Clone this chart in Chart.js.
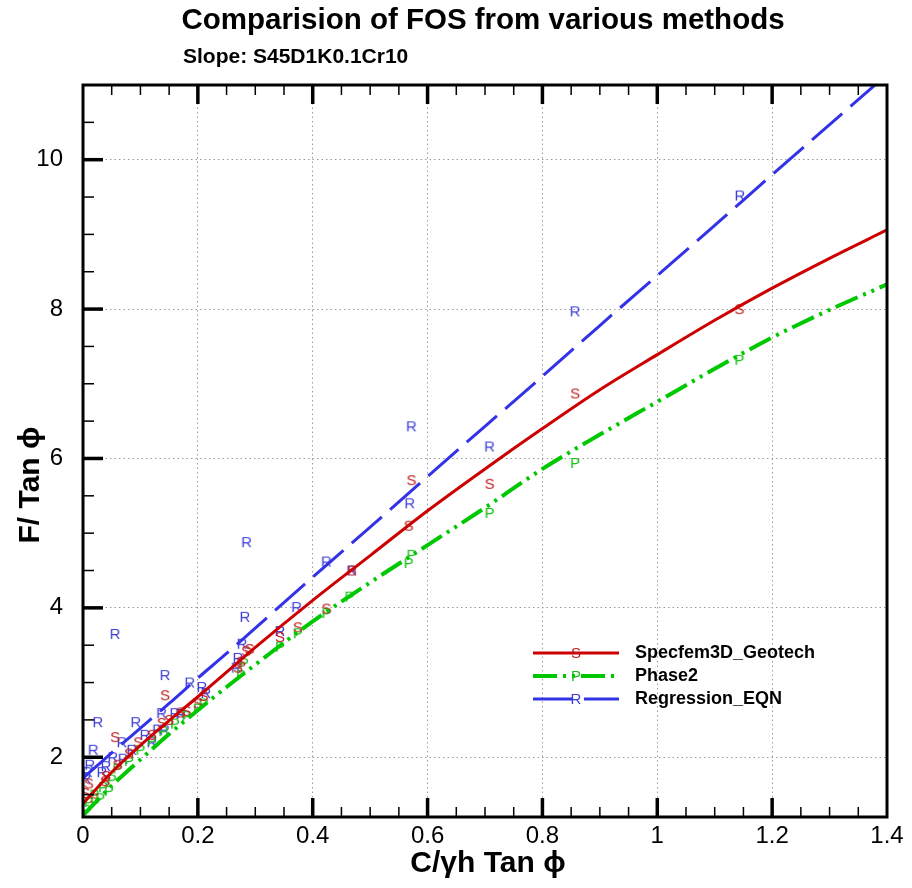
<!DOCTYPE html>
<html>
<head>
<meta charset="utf-8">
<title>Comparision of FOS from various methods</title>
<script src="https://cdn.jsdelivr.net/npm/chart.js@4.4.1/dist/chart.umd.min.js"></script>
<style>
  html, body { margin: 0; padding: 0; background: #fff; }
  #wrap { width: 912px; height: 888px; }
</style>
</head>
<body>
<div id="wrap"><canvas id="fosChart" width="912" height="888"></canvas></div>
<script>
// axis ticks
const xTickVals = [0, 0.2, 0.4, 0.6, 0.8, 1.0, 1.2, 1.4];
const yTickVals = [2, 4, 6, 8, 10];

// fitted curves (x shared by the three lines)
const curveX = [0, 0.05, 0.1, 0.15, 0.2, 0.25, 0.3, 0.4, 0.5, 0.6, 0.7, 0.8, 0.9, 1.0, 1.1, 1.2, 1.3, 1.4];
const specfemCurve = [1.38, 1.80, 2.16, 2.49, 2.81, 3.14, 3.47, 4.10, 4.70, 5.30, 5.86, 6.40, 6.92, 7.39, 7.85, 8.28, 8.68, 9.06];
const phase2Curve = [1.22, 1.62, 1.97, 2.31, 2.63, 2.94, 3.24, 3.82, 4.34, 4.84, 5.34, 5.86, 6.32, 6.76, 7.20, 7.62, 7.99, 8.33];
const regressionCurve = [1.72, 2.06, 2.39, 2.72, 3.06, 3.39, 3.73, 4.41, 5.08, 5.76, 6.43, 7.10, 7.78, 8.45, 9.12, 9.80, 10.47, 11.14];

// symbol points ("S", "P", "R")
const specfemX = [1.143, 0.857, 0.708, 0.572, 0.567, 0.468, 0.424, 0.374, 0.343, 0.290, 0.284, 0.275, 0.270, 0.210, 0.200, 0.180, 0.170, 0.150, 0.143, 0.137, 0.120, 0.096, 0.080, 0.060, 0.056, 0.040, 0.038, 0.020, 0.010, 0.004];
const specfemY = [8.00, 6.87, 5.66, 5.71, 5.10, 4.50, 3.99, 3.74, 3.61, 3.45, 3.42, 3.28, 3.20, 2.82, 2.72, 2.62, 2.60, 2.50, 2.83, 2.46, 2.30, 2.20, 2.05, 1.90, 2.27, 1.75, 1.68, 1.45, 1.65, 1.52];
const phase2X = [1.143, 0.857, 0.708, 0.572, 0.567, 0.464, 0.424, 0.374, 0.343, 0.280, 0.275, 0.210, 0.200, 0.180, 0.160, 0.140, 0.120, 0.100, 0.080, 0.060, 0.050, 0.045, 0.035, 0.030, 0.020, 0.010, 0.005];
const phase2Y = [7.32, 5.94, 5.27, 4.71, 4.60, 4.15, 3.93, 3.66, 3.48, 3.26, 3.10, 2.72, 2.65, 2.55, 2.45, 2.35, 2.22, 2.10, 1.95, 1.85, 1.70, 1.55, 1.60, 1.45, 1.50, 1.40, 1.30];
const regressionX = [1.144, 0.857, 0.572, 0.708, 0.569, 0.285, 0.424, 0.468, 0.372, 0.282, 0.056, 0.143, 0.343, 0.277, 0.270, 0.267, 0.186, 0.207, 0.214, 0.026, 0.092, 0.137, 0.160, 0.170, 0.130, 0.142, 0.068, 0.108, 0.120, 0.085, 0.018, 0.052, 0.070, 0.012, 0.040, 0.033, 0.008, 0.005];
const regressionY = [9.52, 7.97, 6.43, 6.16, 5.40, 4.88, 4.62, 4.50, 4.01, 3.88, 3.65, 3.10, 3.69, 3.52, 3.33, 3.20, 3.00, 2.94, 2.86, 2.47, 2.47, 2.59, 2.59, 2.58, 2.37, 2.37, 2.20, 2.30, 2.20, 2.10, 2.10, 2.00, 1.98, 1.90, 1.88, 1.80, 1.80, 1.72];

const seriesNames = ['Specfem3D_Geotech', 'Phase2', 'Regression_EQN'];

const FONT = 'Arial, "Liberation Sans", "DejaVu Sans", sans-serif';
const RED = 'rgb(204,0,0)', GREEN = 'rgb(0,200,0)', BLUE = 'rgb(50,50,230)';

function zip(xs, ys) {
    return xs.map((x, i) => ({ x: x, y: ys[i] }));
}

// Tecplot style letter symbol as a small canvas
function letterSymbol(ch, color) {
    const c = document.createElement('canvas');
    c.width = 16; c.height = 18;
    const g = c.getContext('2d');
    g.font = '15px ' + FONT;
    g.fillStyle = color;
    g.textAlign = 'center';
    g.textBaseline = 'middle';
    g.fillText(ch, 8, 9.5);
    return c;
}
const symS = letterSymbol('S', 'rgb(190,30,30)');
const symP = letterSymbol('P', 'rgb(20,190,20)');
const symR = letterSymbol('R', 'rgb(60,60,215)');

const lineSets = [
    { name: seriesNames[0], color: RED, width: 3, dash: [], sym: symS },
    { name: seriesNames[1], color: GREEN, width: 4, dash: [24, 6, 3, 6, 3, 6], sym: symP },
    { name: seriesNames[2], color: BLUE, width: 3, dash: [40, 11], sym: symR }
];

// frame, inward ticks, titles and legend
const decorPlugin = {
    id: 'decor',
    afterDraw(chart) {
        const ctx = chart.ctx;
        const a = chart.chartArea;
        const xs = chart.scales.x, ys = chart.scales.y;
        ctx.save();

        // inward ticks: left, bottom, top
        ctx.strokeStyle = '#000';
        for (let i = 3; i <= 21; i++) {
            const py = ys.getPixelForValue(i * 0.5);
            const major = i % 4 === 0;
            ctx.lineWidth = major ? 3.5 : 1.5;
            ctx.beginPath();
            ctx.moveTo(a.left, py);
            ctx.lineTo(a.left + (major ? 20 : 11), py);
            ctx.stroke();
        }
        for (let i = 1; i < 28; i++) {
            const px = xs.getPixelForValue(i * 0.05);
            const major = i % 4 === 0;
            ctx.lineWidth = major ? 3.5 : 1.5;
            const len = major ? 19 : 10;
            ctx.beginPath();
            ctx.moveTo(px, a.bottom);
            ctx.lineTo(px, a.bottom - len);
            ctx.moveTo(px, a.top);
            ctx.lineTo(px, a.top + len);
            ctx.stroke();
        }

        // frame
        ctx.lineWidth = 3;
        ctx.strokeRect(a.left, a.top, a.right - a.left, a.bottom - a.top);

        // titles
        ctx.fillStyle = '#000';
        ctx.textBaseline = 'middle';
        ctx.textAlign = 'center';
        ctx.font = 'bold 29.5px ' + FONT;
        ctx.fillText('Comparision of FOS from various methods', 483, 21);
        ctx.textAlign = 'left';
        ctx.font = 'bold 21px ' + FONT;
        ctx.fillText('Slope: S45D1K0.1Cr10', 183, 57);

        ctx.textAlign = 'center';
        ctx.font = 'bold 30px ' + FONT;
        ctx.fillText('C/\u03B3h Tan \u03D5', 488, 864);
        ctx.save();
        ctx.translate(31, 485);
        ctx.rotate(-Math.PI / 2);
        ctx.fillText('F/ Tan \u03D5', 0, 0);
        ctx.restore();

        // legend
        const legY = [653, 676, 699];
        lineSets.forEach((s, i) => {
            ctx.strokeStyle = s.color;
            ctx.lineWidth = s.width;
            ctx.setLineDash(s.dash);
            ctx.beginPath();
            ctx.moveTo(533, legY[i]);
            ctx.lineTo(619, legY[i]);
            ctx.stroke();
            ctx.setLineDash([]);
            ctx.drawImage(s.sym, 576 - 8, legY[i] - 9);
            ctx.fillStyle = '#000';
            ctx.textAlign = 'left';
            ctx.font = 'bold 18px ' + FONT;
            ctx.fillText(s.name, 635, legY[i]);
        });
        ctx.restore();
    }
};

const datasets = [
    { label: seriesNames[0], data: zip(curveX, specfemCurve) },
    { label: seriesNames[1], data: zip(curveX, phase2Curve) },
    { label: seriesNames[2], data: zip(curveX, regressionCurve) }
].map((d, i) => Object.assign(d, {
    showLine: true,
    pointRadius: 0,
    borderColor: lineSets[i].color,
    borderWidth: lineSets[i].width,
    borderDash: lineSets[i].dash,
    borderCapStyle: 'butt',
    cubicInterpolationMode: 'monotone',
    fill: false
}));

datasets.push(
    { label: 'S', data: zip(specfemX, specfemY), pointStyle: symS, pointRadius: 8, showLine: false },
    { label: 'P', data: zip(phase2X, phase2Y), pointStyle: symP, pointRadius: 8, showLine: false },
    { label: 'R', data: zip(regressionX, regressionY), pointStyle: symR, pointRadius: 8, showLine: false }
);

const gridOpts = { color: '#9a9a9a', lineWidth: 1, drawTicks: false };

new Chart(document.getElementById('fosChart').getContext('2d'), {
    type: 'scatter',
    data: { datasets: datasets },
    options: {
        responsive: false,
        animation: false,
        layout: { padding: { top: 85, right: 25, left: 0, bottom: 0 } },
        plugins: {
            legend: { display: false },
            tooltip: { enabled: false },
            title: { display: false }
        },
        scales: {
            x: {
                type: 'linear',
                min: 0,
                max: 1.4,
                afterBuildTicks: s => { s.ticks = xTickVals.map(v => ({ value: v })); },
                afterFit: s => { s.height = 71; },
                ticks: {
                    autoSkip: false,
                    maxRotation: 0,
                    padding: 5,
                    color: '#000',
                    font: { family: FONT, size: 24 },
                    callback: v => String(Math.round(v * 10) / 10)
                },
                grid: gridOpts,
                border: { display: false, dash: [1.5, 3] }
            },
            y: {
                type: 'linear',
                min: 1.2,
                max: 11,
                afterBuildTicks: s => { s.ticks = yTickVals.map(v => ({ value: v })); },
                afterFit: s => { s.width = 83; },
                ticks: {
                    autoSkip: false,
                    padding: 20,
                    color: '#000',
                    font: { family: FONT, size: 24 },
                    callback: v => String(v)
                },
                grid: gridOpts,
                border: { display: false, dash: [1.5, 3] }
            }
        }
    },
    plugins: [decorPlugin]
});
</script>
</body>
</html>
